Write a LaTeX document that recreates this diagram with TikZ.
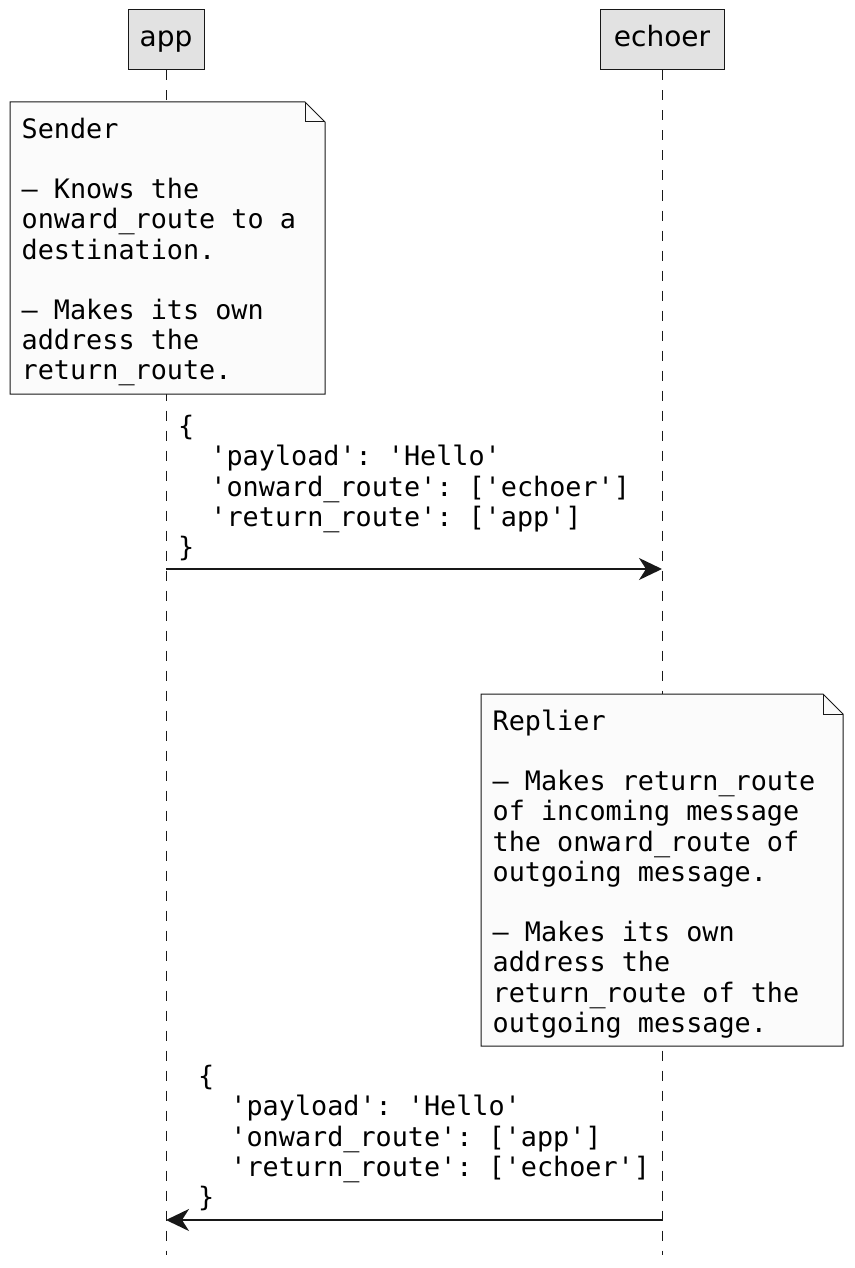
\documentclass[tikz,border=0pt]{standalone}
\usepackage{fontspec}
\setmainfont{DejaVu Sans}
\setmonofont{DejaVu Sans Mono}
\usetikzlibrary{arrows.meta}

\definecolor{linecol}{HTML}{181818}
\definecolor{actorfill}{HTML}{E2E2E2}
\definecolor{notefill}{HTML}{FBFBFB}
\newcommand\notefont{\ttfamily\fontsize{26.8}{30.2}\selectfont}
\newcommand\topstrut{\rule{0pt}{21pt}}
\newcommand\ind{\phantom{xx}}

\begin{document}
\begin{tikzpicture}[x=1pt, y=-1pt,
  actor/.style={draw=linecol, fill=actorfill, line width=1pt, minimum height=60pt,
    font=\fontsize{28}{33}\selectfont, text height=20pt, text depth=6pt},
  life/.style={draw=linecol, line width=1pt, dash pattern=on 10pt off 10pt},
  notebox/.style={draw=linecol, fill=notefill, line width=1pt},
  txt/.style={font=\notefont, align=left, inner sep=0pt, anchor=north west},
  msg/.style={draw=linecol, line width=2pt, -{Stealth[length=23pt, width=22pt, inset=7pt]}}]
\useasboundingbox (0,0) rectangle (854,1268);

\node [actor, minimum width=76pt] (app) at (166,40) {app};
\node [actor, minimum width=124pt] (echoer) at (662,40) {echoer};
\coordinate (app end) at (166,1255);
\coordinate (echoer end) at (662,1255);
\draw [life] (app.south) -- (app end);
\draw [life] (echoer.south) -- (echoer end);

\filldraw [notebox] (10,102) -- (305,102) -- (325,122) -- (325,394) -- (10,394) -- cycle;
\draw [notebox, fill=none] (305,102) -- (305,122) -- (325,122);
\node [txt] (sender) at (21.5,117) {\topstrut Sender\\ \\
  – Knows the\\ onward\_route to a\\ destination.\\ \\
  – Makes its own\\ address the\\ return\_route.};

\node [txt] (hello) at (178,414.5) {\topstrut\{\\
  \ind'payload': 'Hello'\\
  \ind'onward\_route': ['echoer']\\
  \ind'return\_route': ['app']\\
  \}};
\draw [msg] (app.south |- 0,569) -- (echoer.south |- 0,569);

\filldraw [notebox] (481,694) -- (823,694) -- (843,714) -- (843,1046) -- (481,1046) -- cycle;
\draw [notebox, fill=none] (823,694) -- (823,714) -- (843,714);
\node [txt] (replier) at (492.5,709) {\topstrut Replier\\ \\
  – Makes return\_route\\ of incoming message\\ the onward\_route of\\ outgoing message.\\ \\
  – Makes its own\\ address the\\ return\_route of the\\ outgoing message.};

\node [txt] (reply) at (198,1064.5) {\topstrut\{\\
  \ind'payload': 'Hello'\\
  \ind'onward\_route': ['app']\\
  \ind'return\_route': ['echoer']\\
  \}};
\draw [msg] (echoer.south |- 0,1220) -- (app.south |- 0,1220);
\end{tikzpicture}
\end{document}
